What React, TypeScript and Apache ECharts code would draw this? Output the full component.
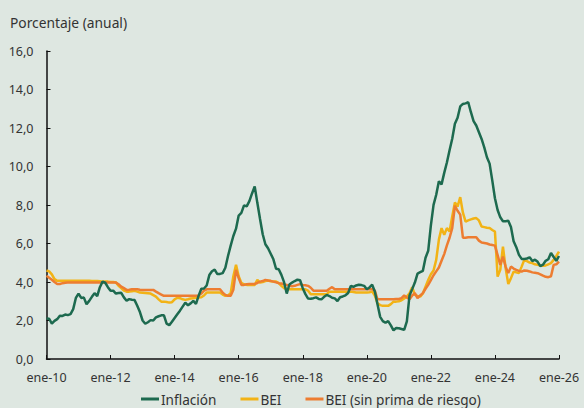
import React, { useEffect, useRef } from "react";
import * as echarts from "echarts";

const monthNames = ["ene", "feb", "mar", "abr", "may", "jun", "jul", "ago", "sep", "oct", "nov", "dic"];
const startYear = 2010;
const yTicks = [0, 2, 4, 6, 8, 10, 12, 14, 16];

// Inflación anual (ene-10 ... ene-26)
const inflacion = [
  2.10, 2.09, 1.84, 1.98, 2.07, 2.25, 2.24, 2.31, 2.28, 2.33, 2.59, 3.17,
  3.40, 3.17, 3.19, 2.84, 3.02, 3.23, 3.42, 3.27, 3.73, 4.02, 3.96, 3.73,
  3.54, 3.55, 3.40, 3.43, 3.44, 3.20, 3.03, 3.11, 3.08, 3.06, 2.77, 2.44,
  2.00, 1.83, 1.91, 2.02, 2.00, 2.16, 2.22, 2.27, 2.27, 1.84, 1.76, 1.94,
  2.13, 2.32, 2.51, 2.72, 2.93, 2.79, 2.89, 3.02, 2.86, 3.29, 3.65, 3.66,
  3.82, 4.36, 4.56, 4.64, 4.41, 4.42, 4.46, 4.74, 5.35, 5.89, 6.39, 6.77,
  7.45, 7.59, 7.98, 7.93, 8.20, 8.60, 8.97, 8.10, 7.27, 6.48, 5.96, 5.75,
  5.47, 5.18, 4.69, 4.66, 4.37, 3.99, 3.40, 3.87, 3.97, 4.05, 4.12, 4.09,
  3.68, 3.37, 3.14, 3.13, 3.16, 3.20, 3.12, 3.10, 3.23, 3.33, 3.27, 3.18,
  3.15, 3.01, 3.21, 3.25, 3.31, 3.43, 3.79, 3.75, 3.82, 3.86, 3.84, 3.80,
  3.62, 3.72, 3.86, 3.51, 2.85, 2.19, 1.97, 1.88, 1.97, 1.75, 1.49, 1.61,
  1.60, 1.56, 1.51, 1.95, 3.30, 3.63, 3.97, 4.44, 4.51, 4.58, 5.26, 5.62,
  6.94, 8.01, 8.53, 9.23, 9.07, 9.67, 10.21, 10.84, 11.44, 12.22, 12.53, 13.12,
  13.25, 13.28, 13.34, 12.82, 12.36, 12.13, 11.78, 11.43, 10.99, 10.48, 10.15, 9.28,
  8.35, 7.74, 7.36, 7.16, 7.16, 7.18, 6.86, 6.12, 5.81, 5.41, 5.20, 5.20,
  5.22, 5.28, 5.09, 5.16, 5.05, 4.82, 4.90, 5.10, 5.18, 5.51, 5.30, 5.10,
  5.35,
];

// BEI
const bei = [
  4.60, 4.55, 4.40, 4.15, 4.06, 4.06, 4.06, 4.07, 4.07, 4.07, 4.07, 4.07,
  4.07, 4.07, 4.07, 4.06, 4.06, 4.05, 4.05, 4.05, 4.04, 4.02, 4.02, 4.02,
  4.00, 4.00, 3.98, 3.80, 3.68, 3.55, 3.50, 3.50, 3.52, 3.54, 3.50, 3.45,
  3.44, 3.43, 3.42, 3.40, 3.32, 3.24, 3.10, 2.98, 2.98, 2.96, 2.93, 2.95,
  3.10, 3.18, 3.16, 3.10, 3.07, 3.10, 3.14, 3.16, 3.18, 3.20, 3.21, 3.30,
  3.45, 3.45, 3.45, 3.45, 3.45, 3.45, 3.35, 3.28, 3.30, 3.42, 4.30, 4.89,
  4.30, 3.95, 3.88, 3.85, 3.85, 3.85, 3.85, 4.11, 3.97, 4.00, 4.05, 4.08,
  4.04, 4.02, 4.02, 3.94, 3.80, 3.68, 3.65, 3.62, 3.62, 3.62, 3.62, 3.62,
  3.62, 3.62, 3.55, 3.37, 3.37, 3.37, 3.37, 3.37, 3.37, 3.37, 3.50, 3.50,
  3.50, 3.50, 3.50, 3.50, 3.50, 3.50, 3.50, 3.48, 3.46, 3.45, 3.45, 3.45,
  3.45, 3.47, 3.50, 3.30, 2.90, 2.80, 2.76, 2.76, 2.76, 2.85, 2.98, 2.98,
  3.00, 3.05, 3.15, 3.24, 3.42, 3.73, 3.33, 3.28, 3.24, 3.40, 3.76, 4.10,
  4.40, 4.60, 5.15, 6.20, 6.80, 6.45, 6.80, 6.62, 7.40, 8.13, 7.92, 8.41,
  7.60, 7.14, 7.20, 7.25, 7.30, 7.32, 7.20, 6.88, 6.85, 6.82, 6.80, 6.70,
  6.62, 4.28, 4.63, 5.84, 4.72, 3.90, 4.20, 4.54, 4.50, 4.46, 4.80, 5.15,
  5.08, 5.01, 4.98, 4.92, 4.89, 4.86, 4.84, 4.86, 4.92, 4.98, 5.15, 5.35,
  5.58,
];

// BEI (sin prima de riesgo)
const beiSinPrima = [
  4.32, 4.22, 4.12, 4.00, 3.90, 3.90, 3.94, 3.96, 3.97, 3.97, 3.97, 3.97,
  3.97, 3.97, 3.98, 3.98, 3.98, 3.98, 3.98, 3.98, 3.98, 3.98, 3.98, 3.98,
  3.98, 3.97, 3.97, 3.88, 3.76, 3.68, 3.59, 3.60, 3.62, 3.62, 3.62, 3.60,
  3.59, 3.59, 3.59, 3.59, 3.59, 3.50, 3.42, 3.35, 3.28, 3.28, 3.28, 3.28,
  3.28, 3.28, 3.28, 3.28, 3.28, 3.28, 3.28, 3.28, 3.28, 3.30, 3.40, 3.55,
  3.62, 3.62, 3.62, 3.62, 3.62, 3.62, 3.45, 3.33, 3.28, 3.28, 3.60, 4.63,
  4.20, 3.85, 3.85, 3.88, 3.90, 3.90, 3.90, 3.95, 4.02, 4.05, 4.11, 4.08,
  4.06, 4.02, 3.98, 3.94, 3.92, 3.88, 3.85, 3.80, 3.78, 3.80, 3.85, 3.89,
  3.85, 3.83, 3.80, 3.70, 3.55, 3.55, 3.55, 3.55, 3.55, 3.55, 3.65, 3.73,
  3.62, 3.62, 3.62, 3.62, 3.62, 3.62, 3.62, 3.62, 3.62, 3.62, 3.62, 3.62,
  3.62, 3.62, 3.62, 3.55, 3.10, 3.10, 3.10, 3.10, 3.10, 3.10, 3.10, 3.12,
  3.12, 3.16, 3.30, 3.20, 3.10, 3.30, 3.42, 3.16, 3.30, 3.42, 3.65, 3.85,
  4.10, 4.35, 4.55, 4.75, 5.10, 5.45, 5.90, 6.30, 6.80, 7.96, 7.70, 7.50,
  6.30, 6.30, 6.32, 6.33, 6.33, 6.33, 6.15, 6.05, 6.03, 6.00, 5.95, 5.92,
  5.89, 5.40, 4.89, 5.32, 4.80, 4.46, 4.80, 4.70, 4.63, 4.58, 4.54, 4.60,
  4.58, 4.55, 4.50, 4.48, 4.46, 4.40, 4.33, 4.27, 4.25, 4.30, 4.89, 4.92,
  5.06,
];

const categories = inflacion.map((_, i) => {
  const y = startYear + Math.floor(i / 12);
  return `${monthNames[i % 12]}-${String(y).slice(2)}`;
});

const FONT = "'Noto Sans', 'Open Sans', sans-serif";

export default function App() {
  const ref = useRef<HTMLDivElement>(null);
  useEffect(() => {
    if (!ref.current) return;
    const chart = echarts.init(ref.current, undefined, { renderer: "svg" });
    const everyTwoYears = (idx: number) => idx % 24 === 0;
    chart.setOption({
      animation: false,
      backgroundColor: "#dee7e1",
      textStyle: { fontFamily: FONT },
      title: {
        text: "Porcentaje (anual)",
        left: 5,
        top: 10,
        textStyle: { fontFamily: FONT, fontSize: 13.8, fontWeight: "normal", color: "#333" },
      },
      grid: { left: 46.5, right: 25, top: 51, bottom: 49 },
      legend: {
        bottom: -3,
        left: 136,
        icon: "rect",
        itemWidth: 18,
        itemHeight: 3,
        itemGap: 24,
        textStyle: { fontFamily: FONT, fontSize: 13.6, color: "#333", padding: [0, 0, 0, -3] },
        data: ["Inflación", "BEI", "BEI (sin prima de riesgo)"],
      },
      xAxis: {
        type: "category",
        data: categories,
        boundaryGap: false,
        axisLine: { lineStyle: { color: "#111", width: 1.5 } },
        axisTick: { inside: true, length: 4, interval: everyTwoYears, lineStyle: { color: "#111" } },
        axisLabel: { interval: everyTwoYears, margin: 12, fontSize: 12.5, color: "#333", fontFamily: FONT },
        splitLine: { show: false },
      },
      yAxis: {
        type: "value",
        min: yTicks[0],
        max: yTicks[yTicks.length - 1],
        interval: 2,
        axisLine: { show: true, lineStyle: { color: "#111", width: 1.5 } },
        axisTick: { show: true, inside: true, length: 4, lineStyle: { color: "#111" } },
        axisLabel: {
          margin: 13,
          fontSize: 12.5,
          color: "#333",
          fontFamily: FONT,
          formatter: (v: number) => v.toFixed(1).replace(".", ","),
        },
        splitLine: { show: false },
      },
      series: [
        {
          name: "BEI",
          type: "line",
          data: bei,
          symbol: "none",
          z: 2,
          color: "#f2b316",
          lineStyle: { width: 2.5, color: "#f2b316" },
        },
        {
          name: "BEI (sin prima de riesgo)",
          type: "line",
          data: beiSinPrima,
          symbol: "none",
          z: 3,
          color: "#ed7d31",
          lineStyle: { width: 2.5, color: "#ed7d31" },
        },
        {
          name: "Inflación",
          type: "line",
          data: inflacion,
          symbol: "none",
          z: 4,
          color: "#1d6a4f",
          lineStyle: { width: 2.5, color: "#1d6a4f" },
        },
      ],
    });
    return () => chart.dispose();
  }, []);
  return (
    <div
      ref={ref}
      style={{ position: "fixed", left: 0, top: 0, width: 584, height: 408 }}
    />
  );
}
